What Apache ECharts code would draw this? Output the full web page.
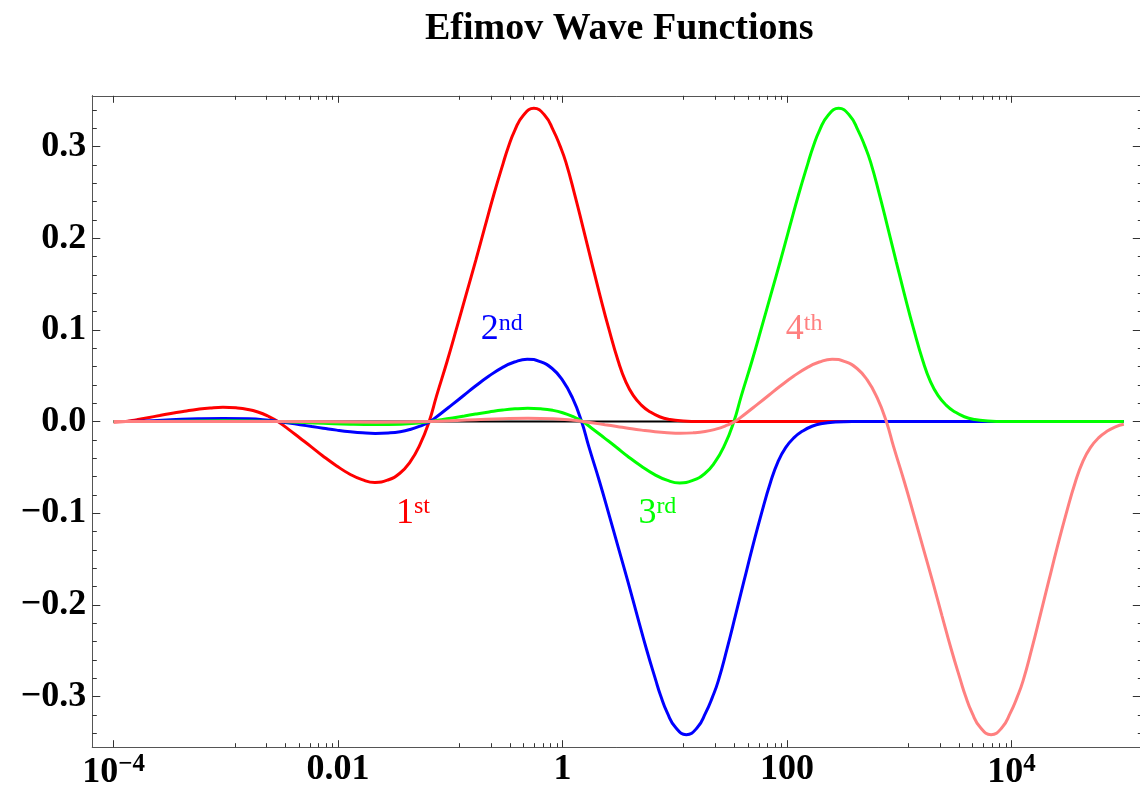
<!DOCTYPE html>
<html><head><meta charset="utf-8">
<script src="https://cdn.jsdelivr.net/npm/echarts@6/dist/echarts.min.js"></script>
<style>html,body{margin:0;padding:0;background:#fff}#c{width:1140px;height:792px}</style>
</head><body><div id="c"></div>
<script>
// ---- data (x = log10 R, y = wave function) ----
const chartTitle = 'Efimov Wave Functions';
const xMajor = [-4, -2, 0, 2, 4];
const xTickText = ['10^−4', '0.01', '1', '100', '10^4'];
const yMajor = [-0.3, -0.2, -0.1, 0, 0.1, 0.2, 0.3];
const stateNames = ['1st', '2nd', '3rd', '4th'];
const stateColors = ['#ff0000', '#0000ff', '#00ff00', '#ff8080'];
const labelAt = [[-1.485, -0.1], [-0.730, 0.1], [0.675, -0.1], [1.989, 0.1]];
const zeroAxis = [[-4, 0], [5, 0]];
const state1 = [[-4,-0.0005],[-3.891,0],[-3.795,0.002],[-3.695,0.0042],[-3.590,0.0065],[-3.490,0.0088],[-3.370,0.0112],[-3.249,0.0134],[-3.140,0.0148],[-3.026,0.0155],[-2.910,0.0149],[-2.804,0.0132],[-2.715,0.0104],[-2.626,0.006],[-2.537,0],
  [-2.441,-0.0086],[-2.341,-0.018],[-2.236,-0.0279],[-2.136,-0.0376],[-2.016,-0.0482],[-1.895,-0.0575],[-1.786,-0.0635],[-1.672,-0.0665],[-1.556,-0.0638],[-1.450,-0.0565],[-1.361,-0.0446],[-1.272,-0.0256],
  [-1.189,0],[-1.123,0.028],[-1.028,0.066],[-0.939,0.104],[-0.856,0.14],[-0.773,0.176],[-0.693,0.212],[-0.612,0.248],[-0.529,0.282],[-0.485,0.299],[-0.425,0.318],[-0.351,0.334],[-0.256,0.3417],[-0.158,0.334],[-0.084,0.318],[-0.024,0.301],[0.029,0.283],[0.109,0.247],[0.183,0.211],[0.258,0.174],[0.332,0.138],[0.412,0.101],[0.495,0.066],[0.564,0.043],[0.629,0.0285],[0.704,0.0176],[0.777,0.0107],[0.864,0.0052],[0.956,0.0022],[1.074,0.0006],[1.223,0],[5,0]];
const state2 = [[-4,0],[-3.888,0],[-3.489,0.0019],[-3.249,0.003],[-3.024,0.0034],[-2.799,0.0029],[-2.619,0.0013],[-2.534,0],
  [-2.438,-0.0017],[-2.338,-0.0035],[-2.233,-0.0055],[-2.133,-0.0073],[-2.013,-0.0094],[-1.892,-0.0112],[-1.783,-0.0124],[-1.669,-0.013],[-1.553,-0.0125],[-1.447,-0.0111],[-1.358,-0.0087],[-1.269,-0.005],[-1.180,0],
  [-1.084,0.0088],[-0.984,0.0184],[-0.879,0.0286],[-0.779,0.0384],[-0.659,0.0493],[-0.538,0.0588],[-0.429,0.0649],[-0.315,0.068],[-0.199,0.0653],[-0.093,0.0578],[-0.004,0.0456],[0.086,0.0262],
  [0.169,0],[0.235,-0.028],[0.330,-0.066],[0.419,-0.104],[0.502,-0.14],[0.585,-0.176],[0.665,-0.212],[0.746,-0.248],[0.829,-0.282],[0.873,-0.299],[0.933,-0.318],[1.007,-0.334],[1.102,-0.3417],[1.200,-0.334],[1.274,-0.318],[1.334,-0.301],[1.387,-0.283],[1.467,-0.247],[1.541,-0.211],[1.616,-0.174],[1.690,-0.138],[1.770,-0.101],[1.853,-0.066],[1.922,-0.043],[1.987,-0.0285],[2.062,-0.0176],[2.135,-0.0107],[2.222,-0.0052],[2.314,-0.0022],[2.432,-0.0006],[2.581,0],[5,0]];
const state3 = [[-4,0],[-3.884,0],[-3.020,0.0007],[-2.530,0],[-2.131,-0.0019],[-1.891,-0.003],[-1.666,-0.0034],[-1.441,-0.0029],[-1.261,-0.0013],[-1.176,0],
  [-1.080,0.0019],[-0.980,0.0039],[-0.875,0.006],[-0.775,0.0081],[-0.655,0.0104],[-0.534,0.0125],[-0.425,0.0138],[-0.311,0.0144],[-0.195,0.0138],[-0.089,0.0122],[0.000,0.0096],[0.089,0.0055],[0.178,0],
  [0.274,-0.0087],[0.374,-0.0181],[0.479,-0.0281],[0.579,-0.0379],[0.699,-0.0486],[0.820,-0.058],[0.929,-0.064],[1.043,-0.067],[1.159,-0.0643],[1.265,-0.057],[1.354,-0.0449],[1.443,-0.0258],
  [1.526,0],[1.592,0.028],[1.687,0.066],[1.776,0.104],[1.859,0.14],[1.942,0.176],[2.022,0.212],[2.103,0.248],[2.186,0.282],[2.230,0.299],[2.290,0.318],[2.364,0.334],[2.459,0.3417],[2.557,0.334],[2.631,0.318],[2.691,0.301],[2.744,0.283],[2.824,0.247],[2.898,0.211],[2.973,0.174],[3.047,0.138],[3.127,0.101],[3.210,0.066],[3.279,0.043],[3.344,0.0285],[3.419,0.0176],[3.492,0.0107],[3.579,0.0052],[3.671,0.0022],[3.789,0.0006],[3.938,0],[5,0]];
const state4 = [[-4,0],[-2.527,0],[-1.663,-0.0007],[-1.173,0],[-0.774,0.0019],[-0.534,0.003],[-0.309,0.0035],[-0.084,0.0029],[0.097,0.0013],[0.182,0],
  [0.278,-0.0017],[0.378,-0.0035],[0.483,-0.0054],[0.583,-0.0073],[0.703,-0.0094],[0.824,-0.0112],[0.933,-0.0123],[1.047,-0.0129],[1.163,-0.0124],[1.269,-0.011],[1.358,-0.0086],[1.447,-0.005],[1.536,0],
  [1.632,0.0088],[1.732,0.0184],[1.837,0.0286],[1.937,0.0384],[2.057,0.0493],[2.178,0.0588],[2.287,0.0649],[2.401,0.068],[2.517,0.0653],[2.623,0.0578],[2.712,0.0456],[2.801,0.0262],
  [2.884,0],[2.950,-0.028],[3.045,-0.066],[3.134,-0.104],[3.217,-0.14],[3.300,-0.176],[3.380,-0.212],[3.461,-0.248],[3.544,-0.282],[3.588,-0.299],[3.648,-0.318],[3.722,-0.334],[3.817,-0.3417],[3.915,-0.334],[3.989,-0.318],[4.049,-0.301],[4.102,-0.283],[4.182,-0.247],[4.256,-0.211],[4.331,-0.174],[4.405,-0.138],[4.485,-0.101],[4.568,-0.066],[4.637,-0.043],[4.702,-0.0285],[4.777,-0.0176],[4.850,-0.0107],[4.925,-0.0058],[5,-0.003]];
const states = [state1, state2, state3, state4];

// ---- ticks (Mathematica style: 8 linear subdivisions between labelled decades) ----
const xMinor = [];
for (let i = 0; i < xMajor.length - 1; i++) {
  const a = Math.pow(10, xMajor[i]), b = Math.pow(10, xMajor[i + 1]);
  for (let k = 1; k <= 8; k++) xMinor.push(Math.log10(a + (b - a) * k / 9));
}
const yMinor = [];
for (let k = -17; k <= 17; k++) if (k % 5 !== 0) yMinor.push(k * 2 / 100);

const FONT = 'Liberation Serif';
const X_MIN = -4.19, X_MAX = 5.16, Y_MIN = -0.3554, Y_MAX = 0.3554;
const FRAME = '#555';

function xAxisDef(position, values, len, labels) {
  return {
    type: 'value', position: position, min: X_MIN, max: X_MAX,
    axisLine: { show: true, onZero: false, lineStyle: { color: FRAME, width: 1 } },
    splitLine: { show: false },
    axisTick: { show: true, inside: true, length: len, customValues: values, lineStyle: { color: '#333', width: 1 } },
    axisLabel: labels ? {
      show: true, customValues: xMajor, margin: 5, color: '#000',
      formatter: function (v) {
        const i = xMajor.indexOf(Math.round(v));
        const t = xTickText[i];
        if (t.indexOf('^') >= 0) { const p = t.split('^'); return '{b|' + p[0] + '}{s|' + p[1] + '}'; }
        return '{p|' + t + '}';
      },
      rich: {
        p: { fontFamily: FONT, fontWeight: 'bold', fontSize: 36, lineHeight: 36, color: '#000' },
        b: { fontFamily: FONT, fontWeight: 'bold', fontSize: 36, lineHeight: 36, padding: [5, 0, 0, 0], color: '#000' },
        s: { fontFamily: FONT, fontWeight: 'bold', fontSize: 25, lineHeight: 25, verticalAlign: 'top', color: '#000' }
      }
    } : { show: false }
  };
}
function yAxisDef(position, values, len, labels) {
  return {
    type: 'value', position: position, min: Y_MIN, max: Y_MAX,
    axisLine: { show: true, onZero: false, lineStyle: { color: FRAME, width: 1 } },
    splitLine: { show: false },
    axisTick: { show: true, inside: true, length: len, customValues: values, lineStyle: { color: '#333', width: 1 } },
    axisLabel: labels ? {
      show: true, customValues: yMajor, margin: 6, color: '#000',
      fontFamily: FONT, fontWeight: 'bold', fontSize: 36,
      formatter: function (v) { return (v < -1e-9 ? '\u2212' : '') + Math.abs(v).toFixed(1); }
    } : { show: false }
  };
}

const series = [{
  type: 'line', data: zeroAxis, showSymbol: false, silent: true,
  lineStyle: { color: '#000', width: 2 }, z: 1
}];
states.forEach(function (d, i) {
  const name = stateNames[i];
  series.push({
    type: 'line', name: name, data: d, smooth: 0.5, showSymbol: false, silent: true,
    lineStyle: { color: stateColors[i], width: 3 }, itemStyle: { color: stateColors[i] }, z: 2 + i,
    markPoint: {
      silent: true, animation: false, symbol: 'circle', symbolSize: 0,
      data: [{
        coord: labelAt[i],
        label: {
          show: true, position: 'right', distance: 0,
          formatter: '{a|' + name.charAt(0) + '}{b|' + name.slice(1) + '}',
          rich: {
            a: { fontFamily: FONT, fontSize: 36, lineHeight: 36, color: stateColors[i] },
            b: { fontFamily: FONT, fontSize: 24, lineHeight: 16, verticalAlign: 'top', color: stateColors[i] }
          }
        }
      }]
    }
  });
});

const chart = echarts.init(document.getElementById('c'), null, { renderer: 'canvas' });
chart.setOption({
  animation: false,
  backgroundColor: '#fff',
  title: {
    text: chartTitle, left: 425, top: 10, padding: 0,
    textStyle: { fontFamily: FONT, fontWeight: 'bold', fontSize: 38, color: '#000' }
  },
  grid: { left: 92.3, width: 1049.5, top: 95.8, height: 651.4, containLabel: false, outerBoundsMode: 'none' },
  xAxis: [
    xAxisDef('bottom', xMajor, 7, true),
    xAxisDef('bottom', xMinor, 4, false),
    xAxisDef('top', xMajor, 7, false),
    xAxisDef('top', xMinor, 4, false)
  ],
  yAxis: [
    yAxisDef('left', yMajor, 8, true),
    yAxisDef('left', yMinor, 4.5, false),
    yAxisDef('right', yMajor, 9, false),
    yAxisDef('right', yMinor, 4, false)
  ],
  series: series
});
</script>
</body></html>
